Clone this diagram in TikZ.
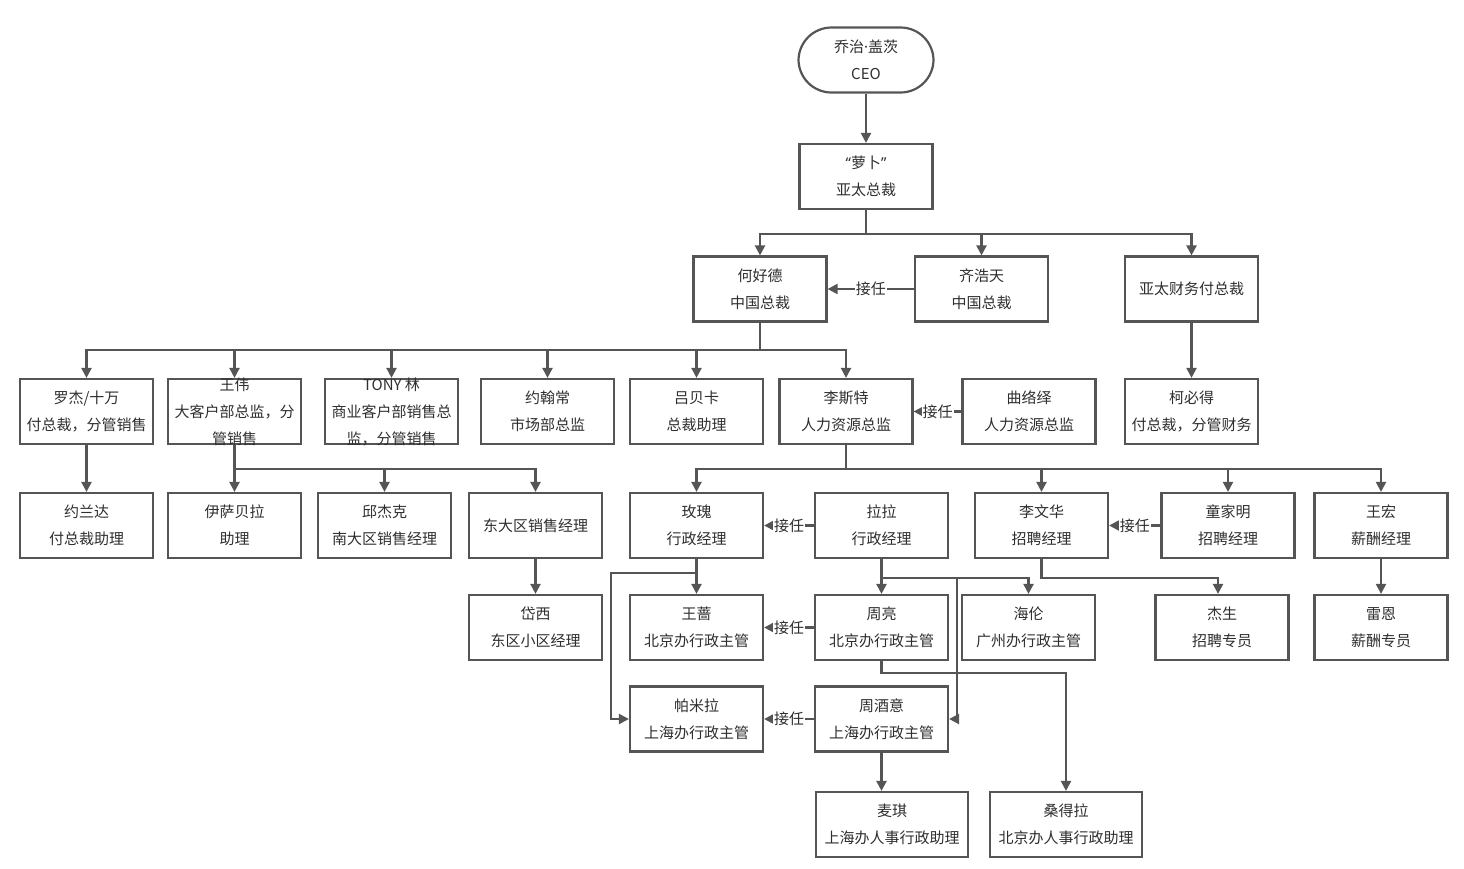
\documentclass[tikz,border=0pt]{standalone}
\usepackage{fontspec}
\setmainfont{Noto Sans CJK SC}
\newfontfamily\latinf{Noto Sans}
\usetikzlibrary{arrows.meta}
\definecolor{ln}{HTML}{555555}
\definecolor{tc}{HTML}{2E2E2E}
\newcommand\ob[5][133]{\node[bx,minimum width=#1pt] (#2) at (#3,#4) {};\node[tx] at (#2) {#5};}
\begin{document}
\begin{tikzpicture}[x=1pt,y=-1pt,
 bx/.style={draw=ln, line width=2.2pt, minimum height=65pt, inner sep=0pt},
 tx/.style={text=tc, align=center, font=\fontsize{15}{27}\selectfont, inner sep=0pt},
 ar/.style={draw=ln, line width=2.2pt, -{Triangle[length=10pt,width=10pt]}},
 jr/.style={fill=white, text=tc, font=\fontsize{15}{18}\selectfont, inner sep=1pt},
]
\useasboundingbox (0,0) rectangle (1464,868);
% CEO
\node[bx, minimum width=135pt, rounded corners=33pt] (ceo) at (866,60) {};
\node[tx] at (ceo) {乔治{\latinf·}盖茨\\CEO};
\ob{luobo}{866}{176.5}{{\latinf“}萝卜{\latinf”}\\亚太总裁}
% row 2
\ob{he}{760}{289}{何好德\\中国总裁}
\ob{qi}{981.5}{289}{齐浩天\\中国总裁}
\ob{yatai}{1191.5}{289}{亚太财务付总裁}
% row 3
\ob{luojie}{86.5}{411.5}{罗杰/十万\\付总裁，分管销售}
\ob{wangwei}{234.5}{411.5}{王伟\\大客户部总监，分\\管销售}
\ob{tony}{391.5}{411.5}{TONY 林\\商业客户部销售总\\监，分管销售}
\ob{yuehan}{547.5}{411.5}{约翰常\\市场部总监}
\ob{lvbeika}{696.5}{411.5}{吕贝卡\\总裁助理}
\ob{lisite}{846}{411.5}{李斯特\\人力资源总监}
\ob{quluoyi}{1029}{411.5}{曲络绎\\人力资源总监}
\ob{kebide}{1191.5}{411.5}{柯必得\\付总裁，分管财务}
% row 4
\ob{yuelanda}{86.5}{525.5}{约兰达\\付总裁助理}
\ob{yisabeila}{234.5}{525.5}{伊萨贝拉\\助理}
\ob{qiujieke}{384.5}{525.5}{邱杰克\\南大区销售经理}
\ob{dongda}{535.5}{525.5}{东大区销售经理}
\ob{meigui}{696.5}{525.5}{玫瑰\\行政经理}
\ob{lala}{881.5}{525.5}{拉拉\\行政经理}
\ob{liwenhua}{1041.5}{525.5}{李文华\\招聘经理}
\ob{tongjiaming}{1228}{525.5}{童家明\\招聘经理}
\ob{wanghong}{1381}{525.5}{王宏\\薪酬经理}
% row 5
\ob{daixi}{535.5}{627.5}{岱西\\东区小区经理}
\ob{wangqiang}{696.5}{627.5}{王蔷\\北京办行政主管}
\ob{zhouliang}{881.5}{627.5}{周亮\\北京办行政主管}
\ob{hailun}{1028.5}{627.5}{海伦\\广州办行政主管}
\ob{jiesheng}{1222}{627.5}{杰生\\招聘专员}
\ob{leien}{1381}{627.5}{雷恩\\薪酬专员}
% row 6
\ob{pamila}{696.5}{719}{帕米拉\\上海办行政主管}
\ob{zhoujiuyi}{881.5}{719}{周酒意\\上海办行政主管}
% row 7
\ob[152]{maiqi}{892}{824.5}{麦琪\\上海办人事行政助理}
\ob[152]{sangdela}{1066}{824.5}{桑得拉\\北京办人事行政助理}
% levels
\coordinate (y1) at (0,234);
\coordinate (y2) at (0,350);
\coordinate (y3) at (0,469);
\coordinate (m1) at (611,573);
\coordinate (l1) at (957,578);
\coordinate (z1) at (0,673);
\coordinate (j1) at (1218,578);
% connectors
\draw[ar] (ceo.south) -- (luobo.north);
\foreach \c in {he,qi,yatai} \draw[ar] (luobo.south) |- (y1 -| \c) -- (\c.north);
\draw[ar] (qi.west) -- node[jr]{接任} (he.east);
\foreach \c in {luojie,wangwei,tony,yuehan,lvbeika,lisite} \draw[ar] (he.south) |- (y2 -| \c) -- (\c.north);
\draw[ar] (yatai.south) -- (kebide.north);
\draw[ar] (quluoyi.west) -- node[jr]{接任} (lisite.east);
\draw[ar] (luojie.south) -- (yuelanda.north);
\foreach \c in {yisabeila,qiujieke,dongda} \draw[ar] (wangwei.south) |- (y3 -| \c) -- (\c.north);
\draw[ar] (dongda.south) -- (daixi.north);
\foreach \c in {meigui,liwenhua,tongjiaming,wanghong} \draw[ar] (lisite.south) |- (y3 -| \c) -- (\c.north);
\draw[ar] (lala.west) -- node[jr]{接任} (meigui.east);
\draw[ar] (tongjiaming.west) -- node[jr]{接任} (liwenhua.east);
\draw[ar] (wanghong.south) -- (leien.north);
\draw[ar] (liwenhua.south) |- (j1) -- (j1 |- jiesheng.north);
\draw[ar] (meigui.south) -- (wangqiang.north);
\draw[ar] (meigui.south) |- (m1) |- (pamila.west);
\draw[ar] (lala.south) -- (zhouliang.north);
\draw[ar] (lala.south) |- (hailun.north |- l1) -- (hailun.north);
\draw[ar] (lala.south) |- (l1) |- (zhoujiuyi.east);
\draw[ar] (zhouliang.south) |- (z1 -| sangdela) -- (sangdela.north);
\draw[ar] (zhouliang.west) -- node[jr]{接任} (wangqiang.east);
\draw[ar] (zhoujiuyi.west) -- node[jr]{接任} (pamila.east);
\draw[ar] (zhoujiuyi.south) -- (zhoujiuyi.south |- maiqi.north);
\end{tikzpicture}
\end{document}
